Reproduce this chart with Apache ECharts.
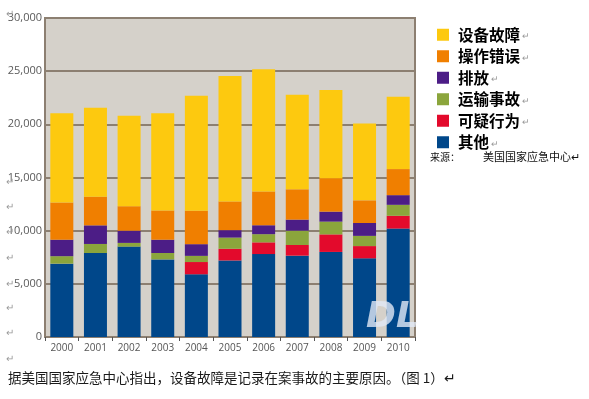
<!DOCTYPE html>
<html>
<head>
<meta charset="utf-8">
<script src="https://cdn.jsdelivr.net/npm/echarts@6/dist/echarts.min.js"></script>
<style>
html, body { margin: 0; padding: 0; background: #fff; }
#main { width: 589px; height: 399px; }
</style>
</head>
<body>
<div id="main"></div>
<script>
var years = ['2000', '2001', '2002', '2003', '2004', '2005', '2006', '2007', '2008', '2009', '2010'];
var other       = [6900, 7900, 8500, 7300, 5900, 7200, 7800, 7650, 8000, 7400, 10200];
var suspicious  = [0, 0, 0, 0, 1150, 1100, 1100, 1000, 1650, 1150, 1200];
var transport   = [700, 850, 350, 600, 580, 1050, 770, 1350, 1200, 960, 1030];
var release     = [1550, 1750, 1150, 1250, 1100, 700, 840, 1040, 940, 1210, 910];
var operator    = [3500, 2700, 2300, 2750, 3150, 2700, 3180, 2850, 3150, 2130, 2450];
var equipment   = [8400, 8350, 8500, 9150, 10800, 11800, 11500, 8900, 8280, 7240, 6800];

var names = ['其他', '可疑行为', '运输事故', '排放', '操作错误', '设备故障'];
var values = [other, suspicious, transport, release, operator, equipment];
var colors = ['#00478a', '#e30a2c', '#8ba53c', '#4c1d86', '#f07f00', '#fdc90f'];

var myChart = echarts.init(document.getElementById('main'));
var lineColor = '#8c7f71';

var series = [];
for (var i = 0; i < names.length; i++) {
    series.push({
        name: names[i],
        type: 'bar',
        stack: 'total',
        barWidth: 23,
        itemStyle: { color: colors[i] },
        data: values[i]
    });
}

// Word paragraph marks along the left edge
var marks = [15, 183, 208, 233, 259, 285, 309, 334, 360];
var graphics = [];
marks.forEach(function (y) {
    graphics.push({
        type: 'text', left: 6, top: y - 6, z: 10,
        style: { text: '↵', fontSize: 10, fill: '#9a9a9a' }
    });
});
graphics.push({
    type: 'text', left: 430, top: 152,
    style: { text: '来源：', fontSize: 10, fill: '#111', fontFamily: 'Noto Sans CJK SC' }
});
graphics.push({
    type: 'text', left: 483, top: 151,
    style: { text: '美国国家应急中心↵', fontSize: 11, fill: '#111', fontFamily: 'Noto Sans CJK SC' }
});
graphics.push({
    type: 'text', left: 8, top: 371,
    style: { text: '据美国国家应急中心指出，设备故障是记录在案事故的主要原因。（图 1）↵', fontSize: 13.5, fill: '#1a1a1a', fontFamily: 'Noto Sans CJK SC' }
});
graphics.push({
    type: 'text', left: 366, top: 300, z: 20,
    style: { text: 'DL', fontSize: 36, fontStyle: 'italic', fontWeight: 'bold', fill: 'rgba(225,233,245,0.8)', fontFamily: 'DejaVu Sans' }
});

option = {
    animation: false,
    backgroundColor: '#fff',
    grid: {
        left: 45, right: 174, top: 18, bottom: 62,
        show: true,
        backgroundColor: '#d5d1ca',
        borderColor: lineColor,
        borderWidth: 2
    },
    legend: {
        orient: 'vertical',
        left: 432,
        top: 22,
        itemWidth: 12,
        itemHeight: 12,
        itemGap: 6,
        icon: 'rect',
        data: names.slice().reverse(),
        formatter: function (name) {
            return '{n|' + name + '}{m|↵}';
        },
        textStyle: {
            padding: [0, 0, 0, 4],
            rich: {
                n: { fontSize: 15.5, fontWeight: 'bold', color: '#000', fontFamily: 'Noto Sans CJK SC' },
                m: { fontSize: 9, color: '#999', padding: [4, 0, 0, 2] }
            }
        }
    },
    xAxis: {
        type: 'category',
        data: years,
        axisLine: { lineStyle: { color: lineColor, width: 2 } },
        axisTick: { show: true, length: 4, lineStyle: { color: '#555' } },
        axisLabel: { color: '#555', fontSize: 10, margin: 6, fontFamily: 'Open Sans' }
    },
    yAxis: {
        type: 'value',
        min: 0,
        max: 30000,
        interval: 5000,
        axisLine: { show: true, lineStyle: { color: lineColor, width: 2 } },
        axisTick: { show: false },
        axisLabel: {
            color: '#5a5a5a', fontSize: 11, margin: 3, fontFamily: 'Open Sans',
            formatter: function (v) { return v === 0 ? '0' : echarts.format.addCommas(v); }
        },
        splitLine: { lineStyle: { color: lineColor, width: 2 } }
    },
    graphic: graphics,
    series: series
};
myChart.setOption(option);
</script>
</body>
</html>
